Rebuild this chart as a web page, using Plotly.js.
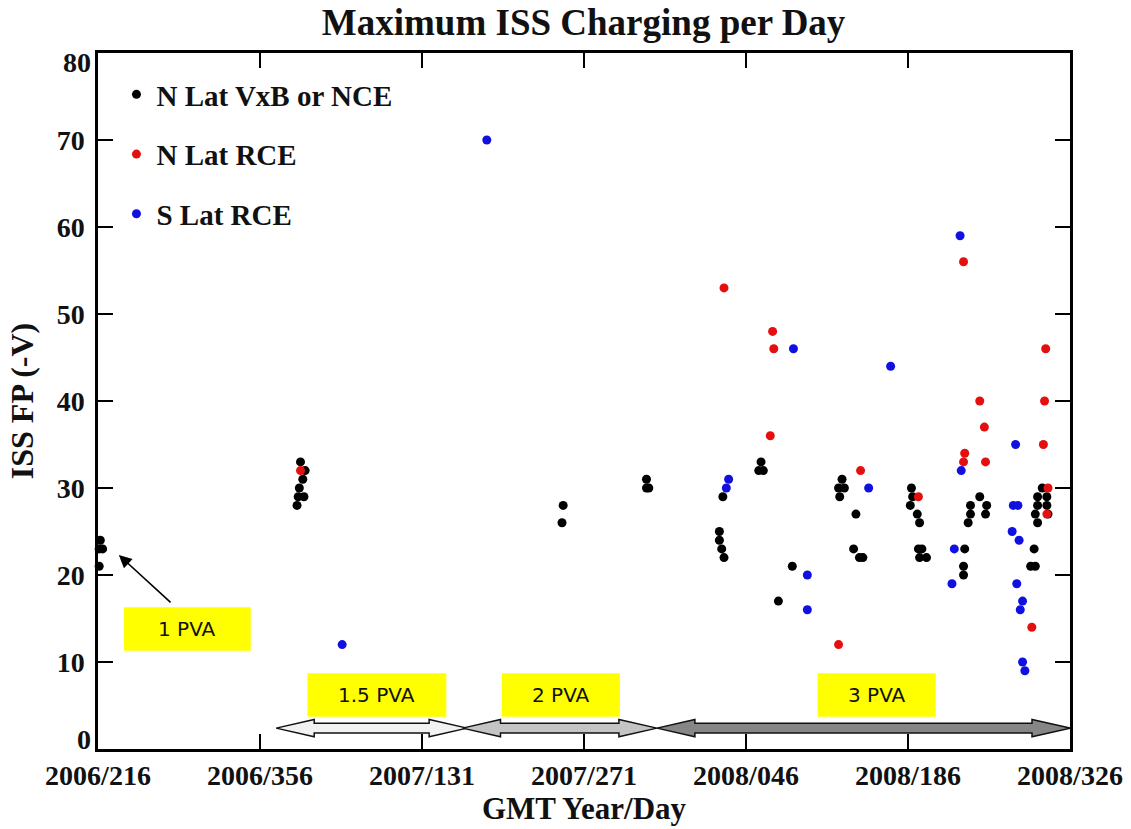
<!DOCTYPE html>
<html>
<head>
<meta charset="utf-8">
<script src="https://cdn.plot.ly/plotly-3.0.1.min.js"></script>
<style>
  body { margin: 0; background: #fff; }
  #chart { width: 1131px; height: 829px; }
</style>
</head>
<body>
<div id="chart"></div>
<script>
// x = days since GMT 2006/216
let tickDays = [0, 140, 280, 420, 560, 700, 840];
let tickLabels = ["2006/216", "2006/356", "2007/131", "2007/271", "2008/046", "2008/186", "2008/326"];
let yTicks = [0, 10, 20, 30, 40, 50, 60, 70, 80];

let blackDays = [2, 1, 4, 1,
  175, 179, 177, 174, 173, 178, 172,
  402, 401,
  474, 474, 476,
  540, 537, 537, 539, 541,
  573, 571, 575, 600, 588,
  643, 640, 645, 641, 655, 653, 658, 661,
  703, 704, 702, 708, 710, 709, 712, 710, 716,
  749, 748, 748,
  762, 754, 768, 754, 767, 752,
  816, 812, 820, 812, 820, 810, 821, 812, 809, 806, 810];
let blackVals = [24, 23, 23, 21,
  33, 32, 31, 30, 29, 29, 28,
  28, 26,
  31, 30, 30,
  29, 25, 24, 23, 22,
  33, 32, 32, 21, 17,
  31, 30, 30, 29, 27, 23, 22, 22,
  30, 29, 28, 27, 26, 23, 23, 22, 22,
  23, 21, 20,
  29, 28, 28, 27, 27, 26,
  30, 29, 29, 28, 28, 27, 27, 26, 23, 21, 21];

let redDays = [175, 541, 583, 584, 581, 640, 659, 709, 748, 749, 748, 762, 766, 767, 819, 818, 817, 821, 820, 807];
let redVals = [32, 53, 48, 46, 36, 12, 32, 29, 56, 34, 33, 40, 37, 33, 46, 40, 35, 30, 27, 14];

let blueDays = [211, 336, 545, 543, 601, 613, 613, 666, 685, 745, 746, 740, 738,
  793, 791, 795, 790, 796, 794, 799, 797, 799, 801];
let blueVals = [12, 70, 31, 30, 46, 20, 16, 30, 44, 59, 32, 23, 19,
  35, 28, 28, 25, 24, 19, 17, 16, 10, 9];

// PVA periods (days), arrows drawn just above the bottom axis
let pvaLabels = ["1.5 PVA", "2 PVA", "3 PVA"];
let pvaStart = [154, 315, 483];
let pvaEnd = [319, 483, 840];
let pvaFill = ["#f2f2f2", "#c4c4c4", "#868686"];

let serif = "Liberation Serif, Times New Roman, serif";

function dots(x, y, name, color) {
  return {
    x: x, y: y, name: name, legendgroup: name,
    type: "scatter", mode: "markers",
    marker: {color: color, size: 9},
    cliponaxis: false
  };
}

function arrowPath(a, b) {
  let yc = 2.4, hh = 1.0, sh = 0.55, head = 38 * 140 / 162;
  return "M" + a + "," + yc +
    " L" + (a + head) + "," + (yc + hh) +
    " L" + (a + head) + "," + (yc + sh) +
    " L" + (b - head) + "," + (yc + sh) +
    " L" + (b - head) + "," + (yc + hh) +
    " L" + b + "," + yc +
    " L" + (b - head) + "," + (yc - hh) +
    " L" + (b - head) + "," + (yc - sh) +
    " L" + (a + head) + "," + (yc - sh) +
    " L" + (a + head) + "," + (yc - hh) + " Z";
}

let shapes = [];
let annotations = [];
let boxes = [[22.5, 132, 11.3, 16.3, "1 PVA"]];
let boxCenters = [241, 400, 673];
let boxHalf = [60, 51, 51];
for (let i = 0; i < pvaLabels.length; i++) {
  boxes.push([boxCenters[i] - boxHalf[i], boxCenters[i] + boxHalf[i], 3.7, 8.7, pvaLabels[i]]);
  shapes.push({
    type: "path", xref: "x", yref: "y", path: arrowPath(pvaStart[i], pvaEnd[i]),
    fillcolor: pvaFill[i], line: {color: "#111", width: 1.5}
  });
}
for (let b of boxes) {
  shapes.push({
    type: "rect", xref: "x", yref: "y", x0: b[0], x1: b[1], y0: b[2], y1: b[3],
    fillcolor: "#ffff00", line: {width: 0}, layer: "below"
  });
  annotations.push({
    x: (b[0] + b[1]) / 2, y: (b[2] + b[3]) / 2, xref: "x", yref: "y",
    text: b[4], showarrow: false,
    font: {family: "DejaVu Sans", size: 20, color: "#111"}
  });
}
annotations.push({
  x: 18, y: 22.3, ax: 64, ay: 16.7, xref: "x", yref: "y", axref: "x", ayref: "y",
  text: "", showarrow: true, arrowhead: 2, arrowsize: 1.6, arrowwidth: 1.6, arrowcolor: "#000"
});

// end labels of the y axis sit inside the axis span, as in the original
let tickFont = {family: serif, size: 28, color: "#111", weight: "bold"};
let yEnds = [yTicks[0], yTicks[yTicks.length - 1]];
annotations.push({x: 0, xref: "paper", y: yEnds[0], yref: "y", xanchor: "right", xshift: -5, yshift: 10,
  text: String(yEnds[0]), showarrow: false, font: tickFont});
annotations.push({x: 0, xref: "paper", y: yEnds[1], yref: "y", xanchor: "right", xshift: -5, yshift: -9,
  text: String(yEnds[1]), showarrow: false, font: tickFont});

let data = [
  dots(blackDays, blackVals, "N Lat VxB or NCE", "#000000"),
  dots(redDays, redVals, "N Lat RCE", "#e41010"),
  dots(blueDays, blueVals, "S Lat RCE", "#1010e0")
];

let axisStyle = {
  showline: true, linecolor: "#000", linewidth: 2.5, mirror: "ticks",
  ticks: "inside", ticklen: 15, tickwidth: 2, tickcolor: "#000",
  showgrid: false, zeroline: false,
  tickfont: tickFont
};

let layout = {
  width: 1131, height: 829,
  margin: {l: 98, r: 61, t: 53, b: 80},
  paper_bgcolor: "#fff", plot_bgcolor: "#fff",
  title: {
    text: "Maximum ISS Charging per Day",
    font: {family: serif, size: 37, color: "#111", weight: "bold"},
    x: 0.516, xanchor: "center", y: 0.974, yanchor: "middle"
  },
  xaxis: Object.assign({}, axisStyle, {
    range: [0, 840], tickvals: tickDays, ticktext: tickLabels, ticklabelstandoff: 0,
    title: {text: "GMT Year/Day", font: {family: serif, size: 31, color: "#111", weight: "bold"}, standoff: 6}
  }),
  yaxis: Object.assign({}, axisStyle, {
    range: [0, 80], tickvals: yTicks,
    ticktext: yTicks.map((v, i) => (i === 0 || i === yTicks.length - 1) ? "" : String(v)),
    ticklabelstandoff: 5,
    title: {text: "ISS FP (-V)", font: {family: serif, size: 32, color: "#111", weight: "bold"}, standoff: 14}
  }),
  showlegend: true,
  legend: {
    x: 0.019, y: 0.977, xanchor: "left", yanchor: "top",
    bgcolor: "rgba(0,0,0,0)", tracegroupgap: 19,
    font: {family: serif, size: 29, color: "#111", weight: "bold"}
  },
  shapes: shapes,
  annotations: annotations
};

Plotly.newPlot("chart", data, layout, {displayModeBar: false});
</script>
</body>
</html>
